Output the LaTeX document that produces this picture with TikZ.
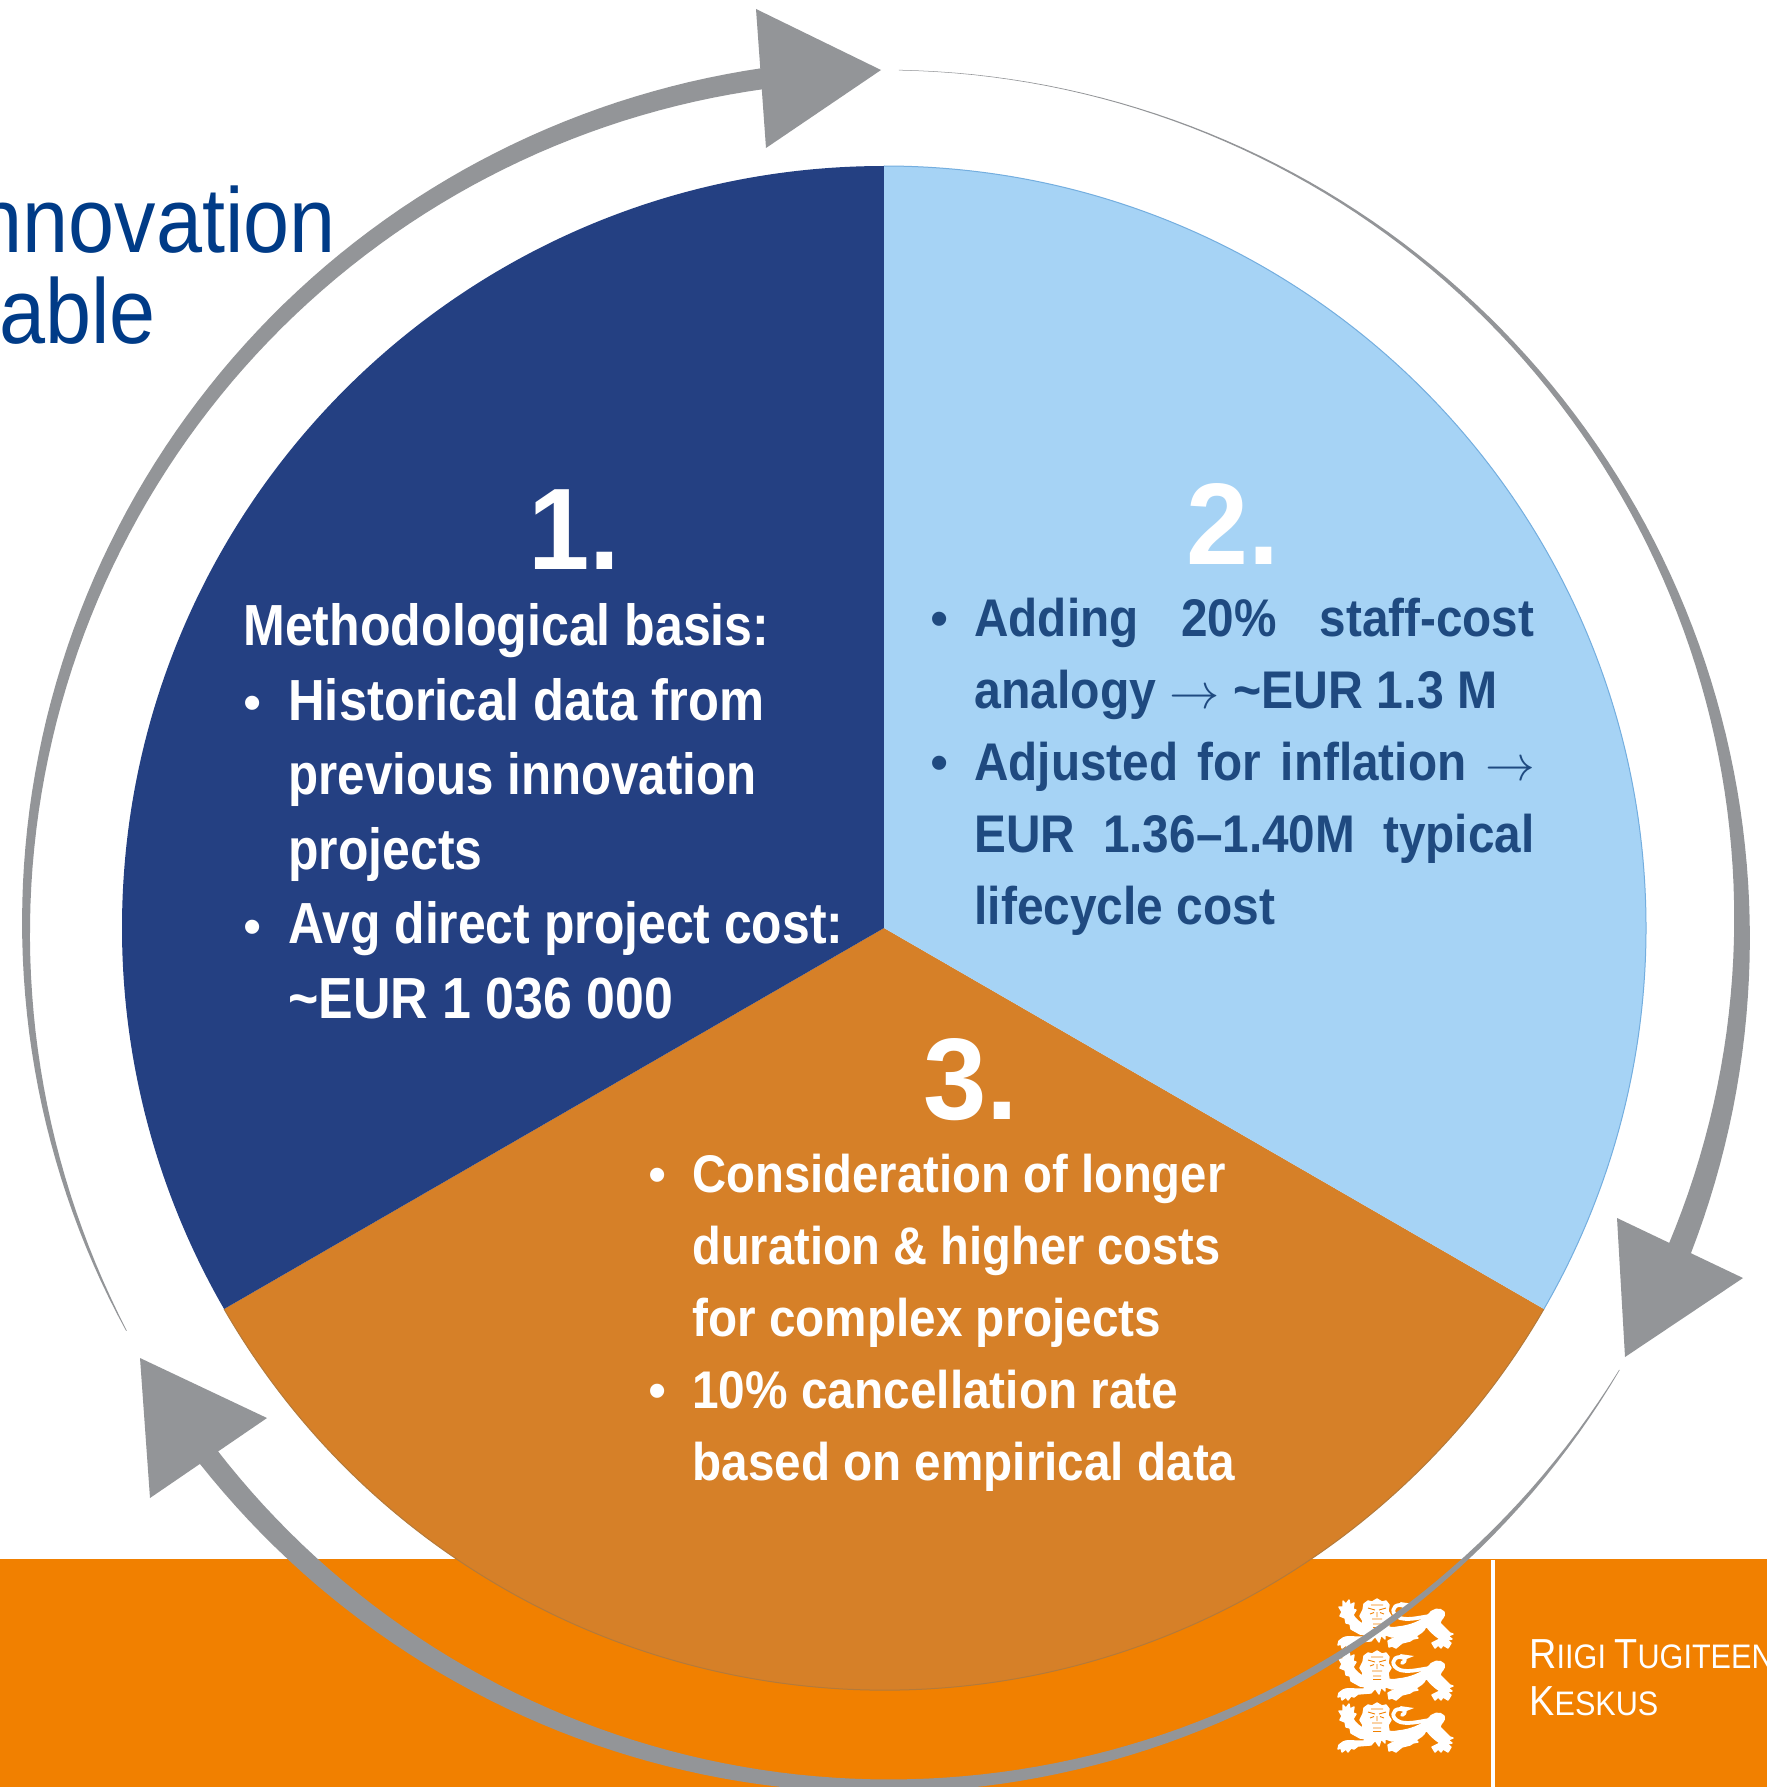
\documentclass[tikz,border=0pt]{standalone}
\usepackage{fontspec}
\usepackage{graphicx}
\setmainfont{Liberation Sans}
\newfontfamily\boldf[FakeStretch=0.84]{Liberation Sans Bold}
\newfontfamily\boldg[FakeStretch=0.90]{Liberation Sans Bold}
\newfontfamily\logof[FakeStretch=0.90]{Liberation Sans}
\newfontfamily\titlef[FakeStretch=0.90]{Liberation Sans}
\newlength\pxunit \setlength\pxunit{0.5pt}
\newcommand\fit[2]{\resizebox{#1\pxunit}{\height}{#2}}
\newcommand\just[2]{\makebox[#1\pxunit][s]{#2}}
\definecolor{navyw}{HTML}{244082}
\definecolor{skyw}{HTML}{A6D3F5}
\definecolor{skyedge}{HTML}{74AEDF}
\definecolor{orangew}{HTML}{D68028}
\definecolor{orangeedge}{HTML}{B47A3A}
\definecolor{bandc}{HTML}{F18000}
\definecolor{arrowg}{HTML}{939598}
\definecolor{titlec}{HTML}{003B87}
\definecolor{bluetxt}{HTML}{1F4A80}
\tikzset{
  txt/.style={inner sep=0pt,anchor=base west,font=\boldf\fontsize{29}{29}\selectfont},
  txtb/.style={inner sep=0pt,anchor=base west,text=bluetxt,font=\boldg\fontsize{26.5}{27}\selectfont},
  txto/.style={inner sep=0pt,anchor=base west,text=white,font=\boldf\fontsize{26.5}{27}\selectfont},
  bul/.style={inner sep=0pt,anchor=base,font=\fontsize{26}{26}\selectfont},
  bignum/.style={inner sep=0pt,anchor=base west,text=white,font=\boldf\fontsize{58}{58}\selectfont},
  titletxt/.style={inner sep=0pt,anchor=base east,text=titlec,font=\titlef\fontsize{46}{46}\selectfont},
  logotxt/.style={inner sep=0pt,anchor=base west,text=white},
  lionfill/.style={fill=white,draw=white,line width=0.7pt,line join=round}
}
% tapered ring arrow shaft: angle #1 (width #3) to angle #2 (width #4), growth exponent #5
\newcommand\taper[5]{%
  \fill[arrowg] plot[domain=#1:#2,samples=90] ({884+(858+0.5*(#3+(#4-#3)*pow(abs((\x-(#1))/((#2)-(#1)))+0.001,#5)))*cos(\x)},{928-(858+0.5*(#3+(#4-#3)*pow(abs((\x-(#1))/((#2)-(#1)))+0.001,#5)))*sin(\x)})
  -- plot[domain=#2:#1,samples=90] ({884+(858-0.5*(#3+(#4-#3)*pow(abs((\x-(#1))/((#2)-(#1)))+0.001,#5)))*cos(\x)},{928-(858-0.5*(#3+(#4-#3)*pow(abs((\x-(#1))/((#2)-(#1)))+0.001,#5)))*sin(\x)}) -- cycle;}
\newcommand\lionshape[2]{%
\begin{scope}[shift={(#1,#2)}]
  % tail curl
  \draw[white,line width=1.9pt,line cap=round,line join=round] (94,17) .. controls (86,17) and (72,22) .. (62,19) .. controls (52,15) and (54,6) .. (62,6) .. controls (67,6) and (69,10) .. (64,12);
  \fill[white] (62,3) -- (76,5) -- (66,9) -- cycle;
  % body
  \path[lionfill] (34,27) .. controls (44,26) and (52,30) .. (60,28) .. controls (72,27) and (84,22) .. (90,16) .. controls (94,10) and (102,8) .. (106,13) .. controls (108,18) and (102,20) .. (102,24) -- (112,34) -- (115,35) -- (110,37) -- (114,40) -- (109,41) -- (113,44) -- (110,49) -- (105,46) -- (103,49) -- (100,46) -- (97,49) -- (94,44) -- (102,40) .. controls (96,36) and (92,32) .. (89,28) .. controls (78,30) and (66,36) .. (54,38) -- (48,36) -- (36,38) -- cycle;
  % hind leg (inner)
  \path[lionfill] (62,36) .. controls (70,30) and (78,26) .. (88,27) .. controls (86,33) and (82,34) .. (78,37) -- (80,39) -- (75,40) -- (72,42) -- (64,44) -- (58,49) -- (54,47) -- (51,48) -- (50,42) -- (56,39) -- cycle;
  % head with mane
  \path[lionfill] (26,5) -- (30,2) -- (34,3) -- (39,0) -- (44,3) -- (48,2) -- (51,6) -- (50,12) -- (53,17) -- (50,22) -- (51,28) -- (47,33) -- (47,40) -- (43,36) -- (41,43) -- (37,37) -- (33,42) -- (31,36) -- (26,39) -- (27,32) -- (23,28) -- (25,22) -- (22,17) -- (25,11) -- cycle;
  % raised foreleg
  \path[lionfill] (29,28) .. controls (22,24) and (17,20) .. (15,16) -- (18,11) -- (15,10) -- (16,4) -- (12,6) -- (11,1) -- (8,5) -- (5,2) -- (5,8) -- (1,8) -- (4,13) -- (2,17) -- (7,19) -- (8,24) -- (12,25) -- (13,30) -- (22,35) -- (30,36) -- cycle;
  % lower foreleg
  \path[lionfill] (32,33) -- (27,38) -- (18,38) .. controls (14,38) and (8,37) .. (5,39) -- (1,42) -- (0,46) -- (3,45) -- (4,49) -- (8,46) -- (10,49) -- (13,45) -- (16,46) -- (20,43) -- (32,42) -- (38,37) -- cycle;
  % face marks
  \draw[bandc,line width=0.45pt] (30,9) -- (37,11) (48,9) -- (41,11) (33,6) -- (45,6) (32,15) -- (36,13.5) (46,15) -- (42,13.5) (39,13) -- (39,18) (34,20) -- (44,20) (35,25) -- (43,25) (35,28.5) -- (43,28.5);
\end{scope}}
\begin{document}
\begin{tikzpicture}[x=0.5pt,y=-0.5pt]
\useasboundingbox (0,0) rectangle (1767,1787);
\clip (0,0) rectangle (1767,1787);
\fill[white] (0,0) rectangle (1767,1787);
% orange band
\fill[bandc] (0,1559) rectangle (1767,1787);
% title
\node[titletxt] (title1) at (336,253) {nnovation};
\node[titletxt] (title2) at (156,343) {able};
% logo
\lionshape{1338}{1599}
\lionshape{1338}{1651}
\lionshape{1338}{1703}
\fill[white] (1491,1560) rectangle (1495,1787);
\node[logotxt] (logo1) at (1529,1668) {\logof\fontsize{21}{21}\selectfont R\fontsize{17}{17}\selectfont IIGI \fontsize{21}{21}\selectfont T\fontsize{17}{17}\selectfont UGITEEN};
\node[logotxt] (logo2) at (1529,1715) {\logof\fontsize{21}{21}\selectfont K\fontsize{17}{17}\selectfont ESKUS};
% ring arrows
\taper{208}{98}{0.5}{21}{0.75}
\taper{89}{-22}{0.5}{24}{2}
\taper{-31}{-142}{0.5}{22}{0.85}
\fill[arrowg] (756,9) -- (881,70) -- (766,148) -- cycle;
\fill[arrowg] (1617,1218) -- (1743,1278) -- (1625,1357) -- cycle;
\fill[arrowg] (140,1358) -- (267,1418) -- (150,1498) -- cycle;
% pie
\fill[orangew] (884,928) -- ++(210:381pt) arc[start angle=210,end angle=330,radius=381pt] -- cycle;
\draw[orangeedge,line width=0.5pt] (884,928) ++(210:381pt) arc[start angle=210,end angle=330,radius=381pt];
\fill[navyw] (884,928) -- (884,166) arc[start angle=90,end angle=210,radius=381pt] -- cycle;
\fill[skyw] (884,928) -- (884,166) arc[start angle=90,end angle=-30,radius=381pt] -- cycle;
\draw[skyedge,line width=0.5pt] (884,166) arc[start angle=90,end angle=-30,radius=381pt];
% panel 1
\node[bignum] (n1) at (528,569) {\fit{92}{1.}};
\node[txt,text=white] (a0) at (243,645) {\fit{526}{Methodological basis:}};
\node[bul,text=white] (ab1) at (253,720) {•};
\node[txt,text=white] (a1) at (288,720) {\fit{476}{Historical data from}};
\node[txt,text=white] (a2) at (288,794) {\fit{468}{previous innovation}};
\node[txt,text=white] (a3) at (288,869) {\fit{194}{projects}};
\node[bul,text=white] (ab2) at (253,944) {•};
\node[txt,text=white] (a4) at (288,943) {\fit{555}{Avg direct project cost:}};
\node[txt,text=white] (a5) at (288,1018) {\fit{385}{\textasciitilde EUR 1 036 000}};
% panel 2
\node[bignum] (n2) at (1186,564) {\fit{93}{2.}};
\node[bul,text=bluetxt] (bb1) at (940,636) {•};
\node[txtb] (b1) at (974,636) {\just{560}{Adding 20\% staff-cost}};
\node[txtb] (b2) at (974,708) {\fit{523}{analogy $\rightarrow$ \textasciitilde EUR 1.3 M}};
\node[bul,text=bluetxt] (bb2) at (940,780) {•};
\node[txtb] (b3) at (974,780) {\just{561}{Adjusted for inflation $\rightarrow$}};
\node[txtb] (b4) at (974,852) {\just{560}{EUR 1.36–1.40M typical}};
\node[txtb] (b5) at (974,924) {\fit{301}{lifecycle cost}};
% panel 3
\node[bignum] (n3) at (923,1119) {\fit{95}{3.}};
\node[bul,text=white] (cb1) at (658,1192) {•};
\node[txto] (c1) at (692,1192) {\fit{533}{Consideration of longer}};
\node[txto] (c2) at (692,1264) {\fit{528}{duration \& higher costs}};
\node[txto] (c3) at (692,1336) {\fit{469}{for complex projects}};
\node[bul,text=white] (cb2) at (658,1408) {•};
\node[txto] (c4) at (692,1408) {\fit{486}{10\% cancellation rate}};
\node[txto] (c5) at (692,1480) {\fit{543}{based on empirical data}};
\end{tikzpicture}
\end{document}
